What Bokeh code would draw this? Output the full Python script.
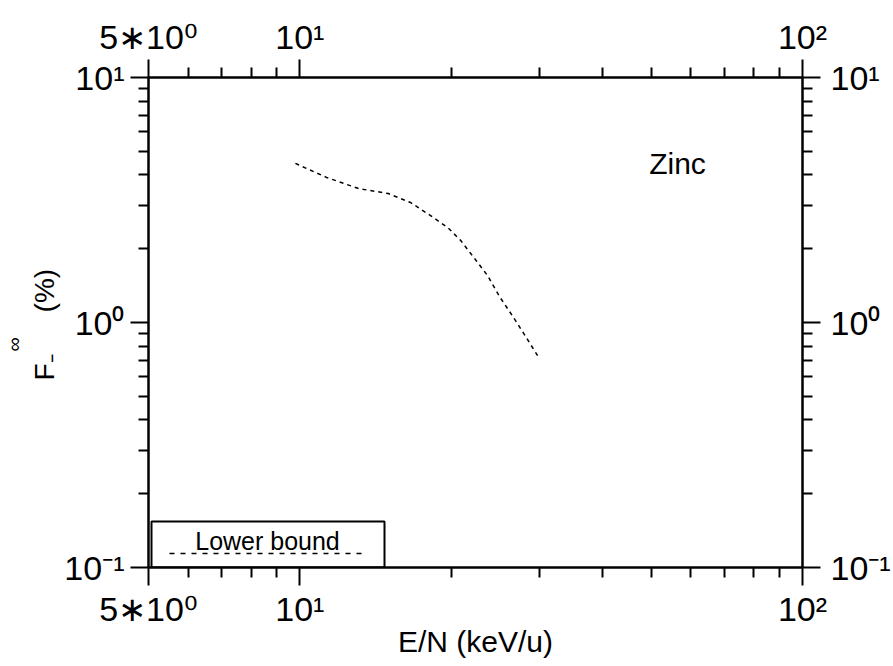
from bokeh.plotting import figure
from bokeh.models import (LogAxis, FixedTicker, CustomJSTickFormatter, Label,
                          BoxAnnotation, Arrow, Range1d, Title)
from bokeh.embed import file_html
from bokeh.resources import INLINE

# ---- data ----
energy = [9.8, 11.3, 13.1, 15.0, 16.6, 18.2, 19.7, 20.9, 22.2, 23.6, 25.0, 26.6, 28.2, 30.0]
lower_bound = [4.46, 3.91, 3.52, 3.36, 3.09, 2.73, 2.44, 2.16, 1.84, 1.56, 1.27, 1.05, 0.87, 0.71]

x_major = [5, 10, 100]
x_major_labels = ["5\u221710\u2070", "10\u00b9", "10\u00b2"]
x_minor = [6, 7, 8, 9, 20, 30, 40, 50, 60, 70, 80, 90]
y_major = [0.1, 1, 10]
y_major_labels = ["10\u207b\u00b9", "10\u2070", "10\u00b9"]
y_minor = [0.2, 0.3, 0.4, 0.5, 0.6, 0.7, 0.8, 0.9, 2, 3, 4, 5, 6, 7, 8, 9]

FONT = "Liberation Sans"
TICK_FONT = "'Liberation Sans Narrow', 'Liberation Sans'"

p = figure(width=893, height=666, x_axis_type="log", y_axis_type="log",
           x_range=Range1d(5, 100), y_range=Range1d(0.1, 10),
           output_backend="svg", toolbar_location=None,
           min_border_left=147, min_border_right=83, min_border_top=77,
           min_border_bottom=99)
p.grid.visible = False
p.outline_line_color = None
p.background_fill_color = "white"
p.border_fill_color = "white"

p.add_layout(LogAxis(), "above")
p.add_layout(LogAxis(), "right")

code = """
let i = -1;
for (let k = 0; k < vals.length; k++) {
  if (Math.abs(vals[k] - tick) / vals[k] < 1e-6) { i = k; }
}
return i >= 0 ? labels[i] : "";
"""
xfmt = CustomJSTickFormatter(args=dict(vals=x_major, labels=x_major_labels), code=code)
yfmt = CustomJSTickFormatter(args=dict(vals=y_major, labels=y_major_labels), code=code)

for ax in p.xaxis:
    ax.ticker = FixedTicker(ticks=x_major, minor_ticks=x_minor)
    ax.formatter = xfmt
for ax in p.yaxis:
    ax.ticker = FixedTicker(ticks=y_major, minor_ticks=y_minor)
    ax.formatter = yfmt

for ax in p.axis:
    ax.axis_line_width = 2.5
    ax.axis_line_color = "black"
    ax.major_tick_out = 18
    ax.major_tick_in = 0
    ax.minor_tick_out = 10
    ax.minor_tick_in = 0
    ax.major_tick_line_width = 2
    ax.minor_tick_line_width = 2
    ax.major_tick_line_color = "black"
    ax.minor_tick_line_color = "black"
    ax.major_label_text_font = TICK_FONT
    ax.major_label_text_font_size = "34px"
    ax.major_label_text_color = "black"
    ax.major_label_standoff = 6

p.right[0].major_label_standoff = 10
p.above[0].major_label_standoff = 4
p.below[0].major_label_standoff = 4
p.below[0].axis_label = "E/N (keV/u)"
p.below[0].axis_label_text_font = FONT
p.below[0].axis_label_text_font_size = "30px"
p.below[0].axis_label_text_font_style = "normal"
p.below[0].axis_label_text_color = "black"
p.below[0].axis_label_standoff = -6

# data curve
p.line(energy, lower_bound, line_color="black", line_width=1.5, line_dash="4 4")

# y title: "F" with subscript minus, then "(%)"; superscript infinity in an outer column
p.add_layout(Title(text="F\u208b\u2003\u2002(%)", align="left", offset=187, standoff=4,
                   text_font=FONT, text_font_size="28px",
                   text_font_style="normal", text_color="black"), "left")
p.add_layout(Title(text="\u221e", align="left", offset=216, standoff=0,
                   text_font=FONT, text_font_size="20px",
                   text_font_style="normal", text_color="black"), "left")

# annotation
p.add_layout(Label(x=56.4, y=4.46, text="Zinc", text_align="center",
                   text_baseline="middle", text_font=FONT, text_font_size="30px",
                   text_color="black"))

# legend box
p.add_layout(BoxAnnotation(left=3, right=236, bottom=0, top=46,
                           left_units="screen", right_units="screen",
                           bottom_units="screen", top_units="screen",
                           fill_color=None, fill_alpha=0, line_color="black",
                           line_alpha=1.0, line_width=2))
p.add_layout(Label(x=119, y=27, x_units="screen", y_units="screen",
                   text="Lower bound", text_align="center", text_baseline="middle",
                   text_font=FONT, text_font_size="25px", text_color="black"))
p.add_layout(Arrow(start=None, end=None, x_start=21, y_start=14, x_end=216, y_end=14,
                   start_units="screen", end_units="screen",
                   line_color="black", line_width=1.5, line_dash="5 6"))

open("out.html", "w").write(file_html(p, INLINE))
